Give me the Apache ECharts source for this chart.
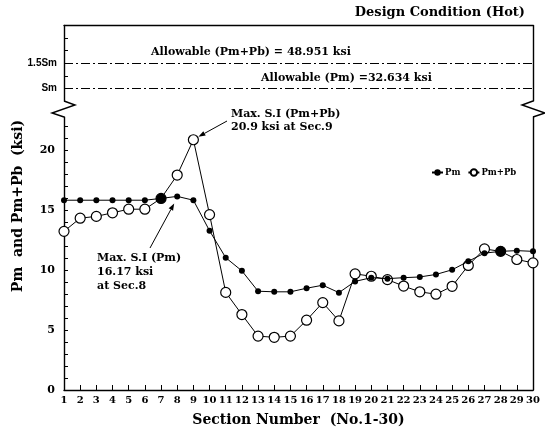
<!DOCTYPE html>
<html>
<head>
<meta charset="utf-8">
<script src="https://cdn.jsdelivr.net/npm/echarts@6/dist/echarts.min.js"></script>
<style>
  html, body { margin: 0; padding: 0; background: #fff; }
  #chart { width: 545px; height: 432px; }
</style>
</head>
<body>
<div id="chart"></div>
<script>
// values (ksi)
const sections = [1, 2, 3, 4, 5, 6, 7, 8, 9, 10, 11, 12, 13, 14, 15,
  16, 17, 18, 19, 20, 21, 22, 23, 24, 25, 26, 27, 28, 29, 30];
const pm = [15.85, 15.85, 15.85, 15.85, 15.85, 15.85, 16.0, 16.17, 15.85, 13.3,
  11.05, 9.95, 8.25, 8.2, 8.2, 8.5, 8.75, 8.13, 9.07, 9.38,
  9.3, 9.38, 9.44, 9.65, 10.04, 10.75, 11.43, 11.58, 11.64, 11.58];
const pmPb = [13.25, 14.35, 14.5, 14.8, 15.1, 15.1, 16.0, 17.95, 20.9, 14.65,
  8.15, 6.3, 4.5, 4.4, 4.5, 5.83, 7.3, 5.77, 9.7, 9.5,
  9.22, 8.68, 8.2, 8.0, 8.66, 10.4, 11.78, 11.58, 10.9, 10.62];
const sm = 32.634;          // Allowable (Pm)
const allowPmPb = 48.951;   // Allowable (Pm+Pb) = 1.5Sm
const yLabelValues = [0, 5, 10, 15, 20];
const yTickValues = [0, 1, 2, 3, 4, 5, 6, 7, 8, 9, 10, 11, 12, 13, 14, 15, 16, 17, 18, 19, 20, 21, 22];
const smLevels = [1, 1.5];
const smLevelNames = ["Sm", "1.5Sm"];
const overlapSections = [7, 28];

(() => {
  const chart = echarts.init(document.getElementById("chart"), null, { renderer: "canvas" });

  const serif = '"DejaVu Serif", serif';
  const box = { left: 64, right: 533, upTop: 25.5, upBottom: 101, lowTop: 117, lowBottom: 392 };
  const lowMax = 22.8;

  const axisLine = { show: true, lineStyle: { color: "#000", width: 1.4 } };
  const noAxisBits = { axisTick: { show: false }, axisLabel: { show: false }, splitLine: { show: false } };

  function smLabel(v) {
    const r = v / sm;
    const i = smLevels.findIndex(l => Math.abs(l - r) < 0.01);
    return i >= 0 ? smLevelNames[i] : "";
  }

  const pmData = sections.map((s, i) => {
    const big = overlapSections.includes(s);
    return big ? { value: [s, pm[i]], symbolSize: 10 } : [s, pm[i]];
  });
  const pmPbData = sections.map((s, i) => [s, pmPb[i]]);

  chart.setOption({
    animation: false,
    backgroundColor: "#fff",
    grid: [
      { left: box.left, width: box.right - box.left, top: box.upTop, height: box.upBottom - box.upTop },
      { left: box.left, width: box.right - box.left, top: box.lowTop, height: box.lowBottom - box.lowTop },
    ],
    xAxis: [
      { gridIndex: 0, type: "value", min: 1, max: 30, position: "top", axisLine, ...noAxisBits },
      {
        gridIndex: 1, type: "value", min: 1, max: 30, interval: 1, position: "bottom",
        axisLine,
        axisTick: { inside: true, length: 5, lineStyle: { color: "#000" } },
        axisLabel: { color: "#000", fontFamily: serif, fontWeight: "bold", fontSize: 10, margin: 5 },
        splitLine: { show: false },
        name: "Section Number  (No.1-30)",
        nameLocation: "middle",
        nameGap: 23,
        nameTextStyle: { color: "#000", fontFamily: serif, fontWeight: "bold", fontSize: 14 },
      },
    ],
    yAxis: [
      {
        gridIndex: 0, type: "value", min: 0.75 * sm, max: 2.25 * sm, interval: sm / 4,
        axisLine,
        axisTick: { inside: true, length: 4, lineStyle: { color: "#000" } },
        axisLabel: {
          color: "#000", fontFamily: '"Liberation Sans", sans-serif', fontWeight: "bold",
          fontSize: 10, margin: 7, formatter: smLabel, showMinLabel: false, showMaxLabel: false,
        },
        splitLine: { show: false },
      },
      { gridIndex: 0, type: "value", min: 0.75 * sm, max: 2.25 * sm, position: "right", axisLine, ...noAxisBits },
      {
        gridIndex: 1, type: "value", min: 0, max: lowMax,
        axisLine,
        axisTick: { inside: true, length: 4, customValues: yTickValues, lineStyle: { color: "#000" } },
        axisLabel: {
          color: "#000", fontFamily: serif, fontWeight: "bold", fontSize: 11, margin: 9,
          customValues: yLabelValues,
        },
        splitLine: { show: false },
      },
      { gridIndex: 1, type: "value", min: 0, max: lowMax, position: "right", axisLine, ...noAxisBits },
    ],
    legend: {
      left: 426, top: 163, itemWidth: 11, itemHeight: 8, itemGap: 7,
      data: ["Pm", "Pm+Pb"],
      textStyle: { color: "#000", fontFamily: serif, fontWeight: "bold", fontSize: 8.5, padding: [0, 0, 0, -3] },
    },
    series: [
      {
        type: "line", xAxisIndex: 0, yAxisIndex: 0, data: [], silent: true,
        markLine: {
          silent: true, symbol: "none", label: { show: false },
          lineStyle: { color: "#000", width: 1, type: [9, 3, 2, 3] },
          data: [{ yAxis: allowPmPb }, { yAxis: sm }],
        },
      },
      {
        name: "Pm+Pb", type: "line", xAxisIndex: 1, yAxisIndex: 2, data: pmPbData, z: 2,
        symbol: "circle", symbolSize: 10,
        lineStyle: { color: "#000", width: 1 },
        itemStyle: { color: "#fff", borderColor: "#000", borderWidth: 1.2 },
      },
      {
        name: "Pm", type: "line", xAxisIndex: 1, yAxisIndex: 2, data: pmData, z: 3,
        symbol: "circle", symbolSize: 6,
        lineStyle: { color: "#000", width: 1 },
        itemStyle: { color: "#000" },
      },
    ],
  });

  // annotations, arrows and axis breaks
  const txt = (text, x, y, opt) => ({
    type: "text", x, y, silent: true,
    style: Object.assign({ text, fill: "#000", font: `bold 11px ${serif}`, align: "left", verticalAlign: "middle" }, opt),
  });

  function arrow(x1, y1, x2, y2) {
    const a = Math.atan2(y2 - y1, x2 - x1);
    const len = 7, w = 2.5;
    const bx = x2 - len * Math.cos(a), by = y2 - len * Math.sin(a);
    const nx = -Math.sin(a) * w, ny = Math.cos(a) * w;
    return [
      { type: "line", silent: true, shape: { x1, y1, x2: bx, y2: by }, style: { stroke: "#000", lineWidth: 1 } },
      { type: "polygon", silent: true, shape: { points: [[x2, y2], [bx + nx, by + ny], [bx - nx, by - ny]] }, style: { fill: "#000" } },
    ];
  }

  function zigzag(x, dir) {
    const y1 = box.upBottom, y2 = box.lowTop;
    return {
      type: "polyline", silent: true,
      shape: { points: [[x, y1], [x + 11 * dir, y1 + 4], [x - 12 * dir, y2 - 4], [x, y2]] },
      style: { stroke: "#000", lineWidth: 1.4, fill: null },
    };
  }

  const pMax = chart.convertToPixel({ gridIndex: 1 }, [9, pmPb[8]]);
  const pPm = chart.convertToPixel({ gridIndex: 1 }, [8, pm[7]]);

  chart.setOption({
    graphic: [
      txt("Design Condition (Hot)", 525, 13, { align: "right", font: `bold 13px ${serif}` }),
      txt(`Allowable (Pm+Pb) = ${allowPmPb} ksi`, 151, 52),
      txt(`Allowable (Pm) =${sm} ksi`, 261, 78),
      {
        type: "text", x: 18, y: 206, rotation: Math.PI / 2, silent: true,
        style: { text: "Pm  and Pm+Pb  (ksi)", fill: "#000", font: `bold 14px ${serif}`, align: "center", verticalAlign: "middle" },
      },
      txt("Max. S.I (Pm+Pb)", 231, 114),
      txt(`${pmPb[8]} ksi at Sec.9`, 231, 127),
      txt("Max. S.I (Pm)", 97, 258),
      txt(`${pm[7]} ksi`, 97, 272),
      txt("at Sec.8", 97, 286),
      ...arrow(227, 121, pMax[0] + 5, pMax[1] - 3),
      ...arrow(150, 248, pPm[0] - 3, pPm[1] + 7),
      zigzag(box.left, 1),
      zigzag(box.right, -1),
    ],
  });
})();
</script>
</body>
</html>
